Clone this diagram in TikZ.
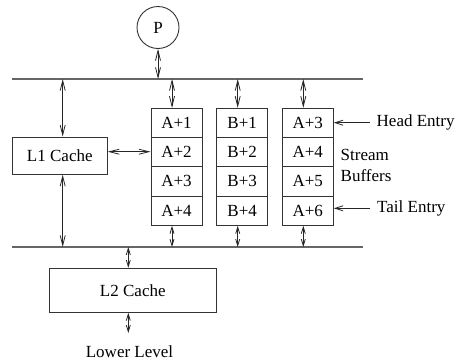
\documentclass[tikz,border=0pt]{standalone}
\usepackage{fontspec}
\setmainfont{Liberation Serif}
\usetikzlibrary{arrows.meta}
\begin{document}
\begin{tikzpicture}[x=1pt,y=-1pt,
  every node/.style={font=\fontsize{17}{20}\selectfont},
  box/.style={draw=black!80,line width=0.9pt,inner sep=0pt},
  bus/.style={draw=black!60,line width=1.4pt},
  link/.style={draw=black!85,line width=0.8pt,{Straight Barb[length=10pt,width=5pt]}-{Straight Barb[length=10pt,width=5pt]}},
  slink/.style={draw=black!85,line width=0.8pt,{Straight Barb[length=6.5pt,width=4pt]}-{Straight Barb[length=6.5pt,width=4pt]}},
  plink/.style={draw=black!85,line width=0.8pt,-{Straight Barb[length=8pt,width=5pt]}}]
\useasboundingbox (0,0) rectangle (457,362);
% buses
\coordinate (tl) at (12,79); \coordinate (tr) at (363,79);
\coordinate (bl) at (12,247); \coordinate (br) at (363,247);
\draw[bus] (tl) -- (tr);
\draw[bus] (bl) -- (br);
% processor
\node[draw=black!80,line width=0.9pt,circle,minimum size=42pt,inner sep=0pt] (P) at (158,27.5) {P};
\coordinate (Pb) at (158,79);
\draw[link] (P) -- (Pb);
% L1
\node[box,minimum width=95pt,minimum height=37pt] (L1) at (59.8,155.6) {L1 Cache};
\coordinate (L1t) at (62.7,79); \coordinate (L1b) at (62.7,247);
\draw[link] (L1t) -- (L1.north -| L1t);
\draw[link] (L1.south -| L1b) -- (L1b);
% stream buffers
\foreach \col/\cx/\lab/\off in {1/176.5/A/0, 2/242.2/B/0, 3/307.8/A/2}{
  \foreach \r in {1,...,4}{
    \pgfmathtruncatemacro{\v}{\r+\off}
    \node[box,minimum width=51pt,minimum height=29.3pt] (s\col\r) at (\cx,{108.3+29.25*(\r-0.5)}) {\lab+\v};
  }
  \coordinate (up\col) at ({\cx-4.5},79);
  \coordinate (dn\col) at ({\cx-4.5},247);
  \draw[link] (up\col) -- (s\col1.north -| up\col);
  \draw[slink] (s\col4.south -| dn\col) -- (dn\col);
}
\draw[link] (L1.east |- 0,151.7) -- (s12.west |- 0,151.7);
% labels
\node[anchor=west,inner sep=0pt] (head) at (376.5,122.7) {Head Entry};
\node[anchor=west,inner sep=0pt] (tail) at (377,208.3) {Tail Entry};
\coordinate (hs) at (370,122.7); \coordinate (ts) at (370,208.3);
\draw[plink] (hs) -- (s31.east |- hs);
\draw[plink] (ts) -- (s34.east |- ts);
\node[anchor=west,inner sep=0pt] (stream) at (340.5,155) {Stream};
\node[anchor=west,inner sep=0pt] (buffers) at (340.5,175.5) {Buffers};
% L2
\node[box,minimum width=167.5pt,minimum height=44pt] (L2) at (132.8,290.3) {L2 Cache};
\coordinate (L2t) at (128.3,247);
\coordinate (L2d) at (128.3,333);
\draw[slink] (L2t) -- (L2.north -| L2t);
\draw[slink] (L2.south -| L2d) -- (L2d);
\node (low) at (129.5,351.5) {Lower Level};
\end{tikzpicture}
\end{document}
